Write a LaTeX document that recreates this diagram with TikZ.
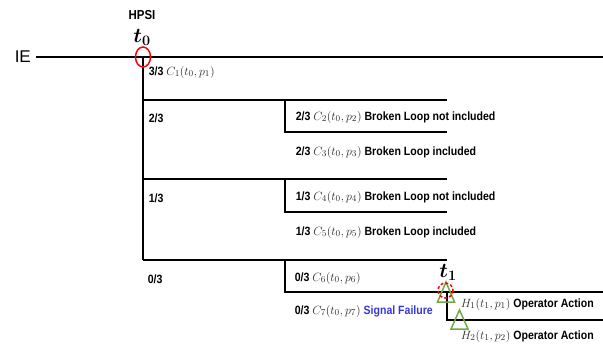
\documentclass[tikz,border=0pt]{standalone}
\usepackage[no-math]{fontspec}
\setmainfont{Liberation Sans}[FakeStretch=0.88]
\newfontfamily\iefont{Liberation Sans}
\definecolor{evgreen}{RGB}{110,170,70}
\definecolor{evblue}{RGB}{55,55,215}
\definecolor{mathgray}{RGB}{45,45,45}
\newcommand{\mth}[1]{{\fontsize{12.5}{12.5}\selectfont\textcolor{mathgray}{$#1$}}}
\begin{document}
\begin{tikzpicture}[x=1pt,y=-1pt,line width=1.5pt,
  lab/.style={anchor=west,inner sep=0pt,font=\fontsize{12}{12}\selectfont\bfseries},
  tlab/.style={inner sep=0pt,font=\fontsize{21}{21}\selectfont\boldmath},
  tri/.style={draw=evgreen,line width=1.5pt,line join=miter}
]
\useasboundingbox (0,0) rectangle (603,346);
% junction coordinates
\coordinate (ie) at (36,57);
\coordinate (t0) at (143,57);
\coordinate (etop) at (603,57);
\coordinate (b23) at (143,100);
\coordinate (e23) at (447,100);
\coordinate (b13) at (143,179);
\coordinate (e13) at (447,179);
\coordinate (b03) at (143,260);
\coordinate (e03) at (447,260);
\coordinate (c2) at (285,100);
\coordinate (c3) at (285,132);
\coordinate (e3) at (447,132);
\coordinate (c4) at (285,179);
\coordinate (c5) at (285,212);
\coordinate (e5) at (447,212);
\coordinate (c6) at (285,260);
\coordinate (c7) at (285,292);
\coordinate (t1) at (447,292);
\coordinate (e7) at (603,292);
\coordinate (h2) at (447,320);
\coordinate (eh2) at (603,320);
% lines
\draw (ie) -- (etop);
\draw (t0) -- (b03);
\draw (b23) -- (e23);
\draw (b13) -- (e13);
\draw (b03) -- (e03);
\draw (c2) -- (c3) -- (e3);
\draw (c4) -- (c5) -- (e5);
\draw (c6) -- (c7) -- (e7);
\draw (t1) -- (h2) -- (eh2);
% markers
\draw[red,line width=1.5pt] (t0) ellipse [x radius=7.5, y radius=10];
\draw[tri] (446,282) -- (454.5,302) -- (437.5,302) -- cycle;
\draw[red,line width=1.5pt,dash pattern=on 3pt off 2pt] (445.5,290.5) circle [radius=7.5];
\draw[tri] (459.5,310) -- (468,329) -- (451,329) -- cycle;
% texts
\node[anchor=west,inner sep=0pt,font=\iefont\fontsize{17}{17}\selectfont] (lIE) at (14,57) {IE};
\node[inner sep=0pt,font=\fontsize{13}{13}\selectfont\bfseries] (lHPSI) at (142,15) {HPSI};
\node[tlab] (lt0) at (142,37) {$t_0$};
\node[tlab] (lt1) at (448,272) {$t_1$};
\node[lab] (l33) at (148,72) {3/3 \mth{C_1(t_0,p_1)}};
\node[lab] (l23) at (148,118) {2/3};
\node[lab] (l13) at (148,198) {1/3};
\node[lab] (l03) at (147,279) {0/3};
\node[lab] (r2) at (295,117) {2/3 \mth{C_2(t_0,p_2)} Broken Loop not included};
\node[lab] (r3) at (295,152) {2/3 \mth{C_3(t_0,p_3)} Broken Loop included};
\node[lab] (r4) at (295,197) {1/3 \mth{C_4(t_0,p_4)} Broken Loop not included};
\node[lab] (r5) at (295,232) {1/3 \mth{C_5(t_0,p_5)} Broken Loop included};
\node[lab] (r6) at (294,278) {0/3 \mth{C_6(t_0,p_6)}};
\node[lab] (r7) at (294,311) {0/3 \mth{C_7(t_0,p_7)} \textcolor{evblue}{Signal Failure}};
\node[lab] (h1l) at (460,304) {\mth{H_1(t_1,p_1)} Operator Action};
\node[lab] (h2l) at (460,336) {\mth{H_2(t_1,p_2)} Operator Action};
\end{tikzpicture}
\end{document}
